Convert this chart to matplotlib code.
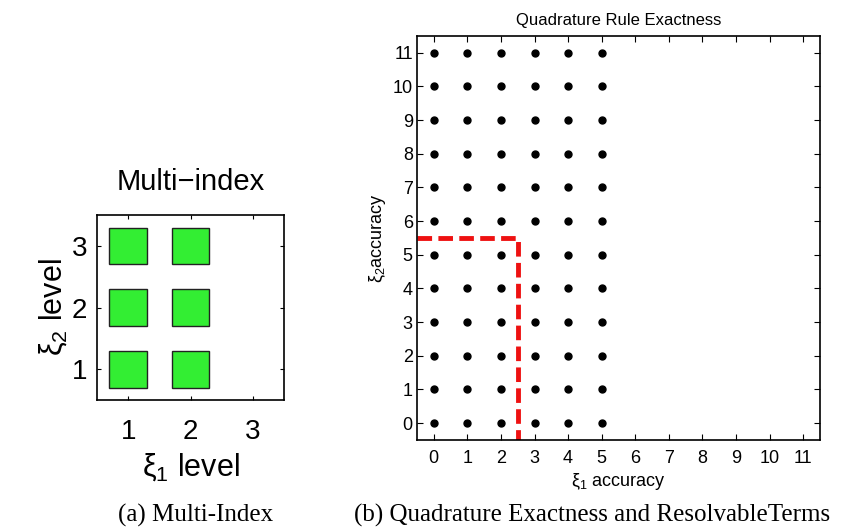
import numpy as np
import matplotlib
matplotlib.use('Agg')
import matplotlib.pyplot as plt
from matplotlib.patches import Rectangle

plt.rcParams['font.family'] = ['Liberation Sans', 'DejaVu Sans']
plt.rcParams['mathtext.fontset'] = 'custom'
plt.rcParams['mathtext.rm'] = 'Liberation Sans'
plt.rcParams['mathtext.it'] = 'Liberation Sans:italic'

# multi-index set (left panel)
mi_levels1 = [1, 2, 1, 2, 1, 2]
mi_levels2 = [1, 1, 2, 2, 3, 3]
level_ticks = [1, 2, 3]

# quadrature exactness grid (right panel)
acc1 = [0, 1, 2, 3, 4, 5]
acc2 = list(range(12))
acc_ticks = list(range(12))
# resolvable terms boundary
bound_x = [-0.5, 2.5, 2.5]
bound_y = [5.5, 5.5, -0.5]

fig = plt.figure(figsize=(8.56, 5.31), dpi=100)

# ---- left: multi-index
ax1 = fig.add_axes([0.1133, 0.2467, 0.2185, 0.348])
for i, j in zip(mi_levels1, mi_levels2):
    ax1.add_patch(Rectangle((i - 0.3, j - 0.3), 0.6, 0.6, facecolor='#33ee33',
                            edgecolor='#222222', linewidth=1.0))
ax1.set_xlim(0.5, 3.5)
ax1.set_ylim(0.5, 3.5)
ax1.set_xticks(level_ticks)
ax1.set_yticks(level_ticks)
ax1.tick_params(direction='in', top=True, right=True, labelsize=20, length=3)
ax1.tick_params(axis='x', pad=14)
ax1.tick_params(axis='y', pad=7)
for s in ax1.spines.values():
    s.set_linewidth(1.2)
ax1.set_title('Multi\u2212index', fontsize=21, pad=18)
ax1.set_xlabel('\u03be$_1$ level', fontsize=22, labelpad=4)
ax1.set_ylabel('\u03be$_2$ level', fontsize=22, labelpad=2)

# ---- right: quadrature exactness
ax2 = fig.add_axes([0.4871, 0.1714, 0.4708, 0.7608])
X, Y = np.meshgrid(acc1, acc2)
ax2.plot(X.ravel(), Y.ravel(), 'o', color='black', markersize=5, linestyle='none')
ax2.plot(bound_x, bound_y, color='#ee1111', linestyle=(0, (3, 1.3)), linewidth=3.5)
ax2.set_xlim(-0.5, 11.5)
ax2.set_ylim(-0.5, 11.5)
ax2.set_xticks(acc_ticks)
ax2.set_yticks(acc_ticks)
ax2.tick_params(direction='in', top=True, right=True, labelsize=13, length=4)
ax2.tick_params(axis='x', pad=7)
ax2.tick_params(axis='y', pad=3)
for s in ax2.spines.values():
    s.set_linewidth(1.2)
ax2.set_title('Quadrature Rule Exactness', fontsize=12, pad=8)
ax2.set_xlabel('\u03be$_1$ accuracy', fontsize=13, labelpad=3)
ax2.set_ylabel('\u03be$_2$accuracy', fontsize=13, labelpad=3)

# captions
fig.text(0.228, 0.017, '(a) Multi-Index', family='Liberation Serif', fontsize=18,
         ha='center', va='baseline')
fig.text(0.692, 0.017, '(b) Quadrature Exactness and ResolvableTerms', family='Liberation Serif',
         fontsize=18, ha='center', va='baseline')

fig.savefig('out.png', dpi=100)
